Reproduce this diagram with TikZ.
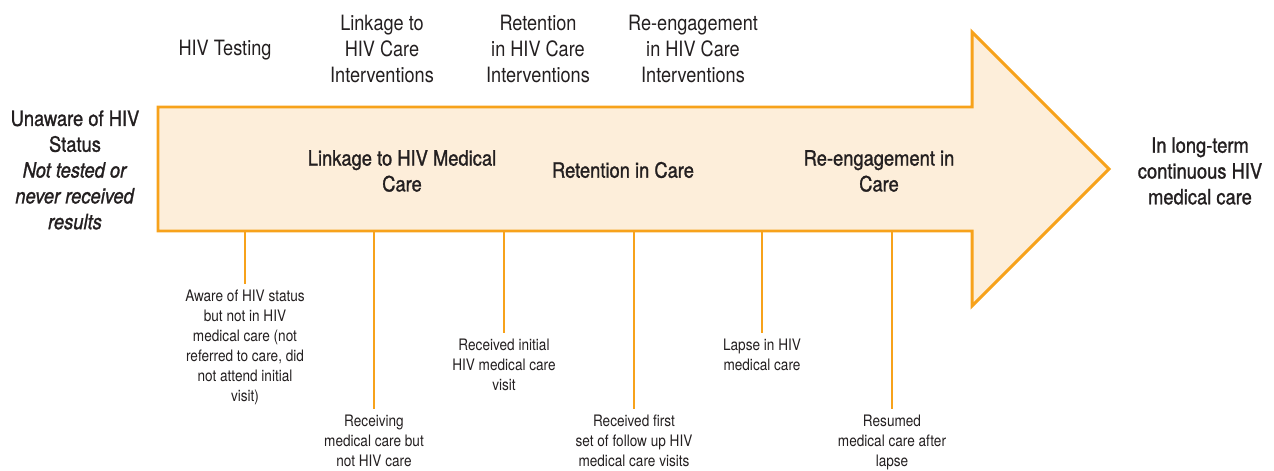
\documentclass[tikz,border=0pt]{standalone}
\usepackage{fontspec}
\setmainfont{TeX Gyre Heros}[FakeStretch=0.86]
\newfontfamily\hivmedium{TeX Gyre Heros}[FakeStretch=0.87, FakeBold=1.2]
\usepackage{tikz}
\usetikzlibrary{calc, positioning}
\definecolor{hivorange}{HTML}{F7A21B}
\definecolor{hivfill}{HTML}{FDEEDA}
\definecolor{hivtext}{HTML}{231F20}

\begin{document}
\begin{tikzpicture}[x=0.02cm, y=-0.02cm,
            biglbl/.style={align=center, text=hivtext, inner sep=0pt, font=\fontsize{12}{14.7}\selectfont},
            boldlbl/.style={biglbl, font=\fontsize{12}{14.7}\selectfont\hivmedium},
            smalllbl/.style={align=center, text=hivtext, inner sep=0pt, anchor=north, font=\fontsize{9}{11.3}\selectfont},
            tick/.style={hivorange, line width=1.1pt, shorten >=3.5pt}]
            \useasboundingbox (0,0) rectangle (1274,470);
            \filldraw[fill=hivfill, draw=hivorange, line width=1.7pt, line join=miter]
                (158,107) -- (972,107) -- (972,32) -- (1109,169) -- (972,306) -- (972,231) -- (158,231) -- cycle;
            \coordinate (shaft) at (158,231);

            \node[boldlbl] (unaware) at (75,170) {Unaware of HIV\\Status\\\textit{Not tested or}\\\textit{never received}\\\textit{results}};
            \node[boldlbl] (longterm) at (1200,171) {In long-term\\continuous HIV\\medical care};

            \node[biglbl] (testing) at (225,50) {HIV Testing};
            \node[biglbl] (linkint) at (382,49) {Linkage to\\HIV Care\\Interventions};
            \node[biglbl] (retint) at (538,49) {Retention\\in HIV Care\\Interventions};
            \node[biglbl] (reint) at (693,49) {Re-engagement\\in HIV Care\\Interventions};

            \node[boldlbl] (linkage) at (402,171) {Linkage to HIV Medical\\Care};
            \node[boldlbl] (retention) at (623,170) {Retention in Care};
            \node[boldlbl] (reengage) at (879,171) {Re-engagement in\\Care};

            \node[smalllbl] (aware) at (245,290) {Aware of HIV status\\but not in HIV\\medical care (not\\referred to care, did\\not attend initial\\visit)};
            \node[smalllbl] (receiving) at (374,415) {Receiving\\medical care but\\not HIV care};
            \node[smalllbl] (initial) at (504,339) {Received initial\\HIV medical care\\visit};
            \node[smalllbl] (followup) at (634,415) {Received first\\set of follow up HIV\\medical care visits};
            \node[smalllbl] (lapse) at (762,339) {Lapse in HIV\\medical care};
            \node[smalllbl] (resumed) at (892,415) {Resumed\\medical care after\\lapse};

            \foreach \n in {aware, receiving, initial, followup, lapse, resumed}
                \draw[tick] (\n.north |- shaft) -- (\n.north);
        \end{tikzpicture}
\end{document}
